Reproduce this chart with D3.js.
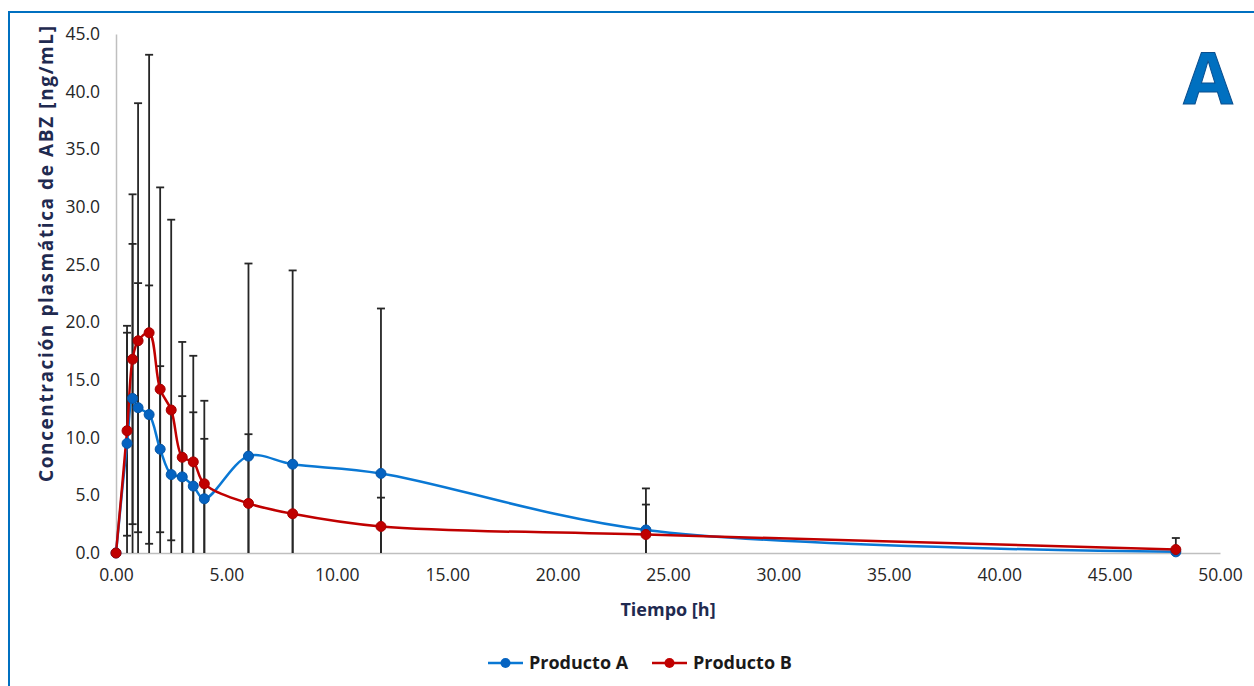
<html lang="en">
  <head>
    <meta charset="utf-8">
    <title>Concentración plasmática de ABZ</title>
    <style>
      body { margin: 0; background: #ffffff; }
      text { font-family: "Open Sans", sans-serif; }
    </style>
    <script type="text/javascript" src="https://d3js.org/d3.v7.min.js"></script>
  </head>
  <body>
    <svg width="1254" height="686" id="chart"></svg>
    <script type="text/javascript">

// data
var tiempo     = [0, 0.5, 0.75, 1, 1.5, 2, 2.5, 3, 3.5, 4, 6, 8, 12, 24, 48];
var productoA  = [0, 9.5, 13.4, 12.6, 12.0, 9.0, 6.8, 6.6, 5.8, 4.7, 8.4, 7.7, 6.9, 2.0, 0.1];
var sdA        = [0, 9.6, 13.4, 10.8, 11.2, 7.2, 5.7, 7.0, 6.4, 5.2, 16.7, 16.8, 14.3, 3.6, 0.2];
var productoB  = [0, 10.6, 16.8, 18.4, 19.1, 14.2, 12.4, 8.3, 7.9, 6.0, 4.3, 3.4, 2.3, 1.6, 0.3];
var sdB        = [0, 9.1, 14.3, 20.6, 24.1, 17.5, 16.5, 10.0, 9.2, 7.2, 6.0, 4.2, 2.5, 2.6, 1.0];
var xTicks = [0, 5, 10, 15, 20, 25, 30, 35, 40, 45, 50];
var yTicks = [0, 5, 10, 15, 20, 25, 30, 35, 40, 45];
var seriesNames = ["Producto A", "Producto B"];
var seriesColors = ["#0a78d4", "#c00000"];
var markerColors = ["#0563c1", "#c00000"];

var series = [
  {name: seriesNames[0], color: seriesColors[0], marker: markerColors[0],
   points: tiempo.map(function(t, i) { return {t: t, v: productoA[i], sd: sdA[i]}; })},
  {name: seriesNames[1], color: seriesColors[1], marker: markerColors[1],
   points: tiempo.map(function(t, i) { return {t: t, v: productoB[i], sd: sdB[i]}; })}
];

var svg = d3.select("#chart");

// frame (blue border left and top)
svg.append("path")
  .attr("d", "M9,686 V12 H1254")
  .attr("fill", "none")
  .attr("stroke", "#0070c0")
  .attr("stroke-width", 2);

var x = d3.scaleLinear().domain([0, 50]).range([116, 1220]);
var y = d3.scaleLinear().domain([0, 45]).range([553, 34]);

// y axis
var yAxis = svg.append("g")
  .attr("transform", "translate(116,0)")
  .call(d3.axisLeft(y).tickValues(yTicks).tickFormat(d3.format(".1f")).tickSize(0).tickPadding(16));
yAxis.select(".domain").attr("stroke", "#bfbfbf").attr("stroke-width", 1.5);
yAxis.selectAll("text").style("font-size", "17.5px").attr("fill", "#262626");

// x axis
var xAxis = svg.append("g")
  .attr("transform", "translate(0,553)")
  .call(d3.axisBottom(x).tickValues(xTicks).tickFormat(d3.format(".2f")).tickSize(0).tickPadding(16));
xAxis.select(".domain").attr("stroke", "#bfbfbf").attr("stroke-width", 1.5);
xAxis.selectAll("text").style("font-size", "17.5px").attr("fill", "#262626");

// axis titles
svg.append("text")
  .attr("transform", "translate(53,254) rotate(-90)")
  .attr("text-anchor", "middle")
  .attr("textLength", 456)
  .attr("lengthAdjust", "spacing")
  .style("font-size", "19px")
  .style("font-weight", "bold")
  .attr("fill", "#1f2a50")
  .text("Concentración plasmática de ABZ [ng/mL]");

svg.append("text")
  .attr("x", 668).attr("y", 616)
  .attr("text-anchor", "middle")
  .style("font-size", "18px")
  .style("font-weight", "bold")
  .attr("fill", "#1f2a50")
  .text("Tiempo [h]");

// error bars (clipped at zero)
var capW = 4;
series.forEach(function(s) {
  var bars = svg.append("g").attr("stroke", "#262626").attr("stroke-width", 1.8);
  s.points.filter(function(d) { return d.sd > 0; }).forEach(function(d) {
    var top = d.v + d.sd, bot = Math.max(0, d.v - d.sd);
    bars.append("line")
      .attr("x1", x(d.t)).attr("x2", x(d.t))
      .attr("y1", y(top)).attr("y2", y(bot));
    bars.append("line")
      .attr("x1", x(d.t) - capW).attr("x2", x(d.t) + capW)
      .attr("y1", y(top)).attr("y2", y(top));
    if (d.v - d.sd > 0) {
      bars.append("line")
        .attr("x1", x(d.t) - capW).attr("x2", x(d.t) + capW)
        .attr("y1", y(bot)).attr("y2", y(bot));
    }
  });
});

// smoothed lines
var line = d3.line()
  .x(function(d) { return x(d.t); })
  .y(function(d) { return y(d.v); })
  .curve(d3.curveCatmullRom.alpha(0.5));

series.forEach(function(s) {
  svg.append("path")
    .datum(s.points)
    .attr("fill", "none")
    .attr("stroke", s.color)
    .attr("stroke-width", 2.5)
    .attr("d", line);
});

// markers
series.forEach(function(s) {
  svg.append("g").selectAll("circle")
    .data(s.points)
    .enter()
    .append("circle")
      .attr("cx", function(d) { return x(d.t); })
      .attr("cy", function(d) { return y(d.v); })
      .attr("r", 5)
      .attr("fill", s.marker)
      .attr("stroke", d3.color(s.marker).darker(0.4))
      .attr("stroke-width", 1);
});

// legend
var legendX = [488, 652];
series.forEach(function(s, i) {
  var g = svg.append("g").attr("transform", "translate(" + legendX[i] + ",663)");
  g.append("line").attr("x1", 0).attr("x2", 35).attr("y1", 0).attr("y2", 0)
    .attr("stroke", s.color).attr("stroke-width", 2.5);
  g.append("circle").attr("cx", 17.5).attr("cy", 0).attr("r", 5).attr("fill", s.marker);
  g.append("text").attr("x", 41).attr("y", 0).attr("dy", "0.35em")
    .style("font-size", "18px").style("font-weight", "bold").attr("fill", "#1a1a1a")
    .text(s.name);
});

// panel letter
svg.append("text")
  .attr("x", 1208).attr("y", 104)
  .attr("text-anchor", "middle")
  .style("font-size", "72px")
  .style("font-weight", "bold")
  .attr("fill", "#0070c0")
  .attr("stroke", "#0a4f8f")
  .attr("stroke-width", 1)
  .text("A");

    </script>
  </body>
</html>
